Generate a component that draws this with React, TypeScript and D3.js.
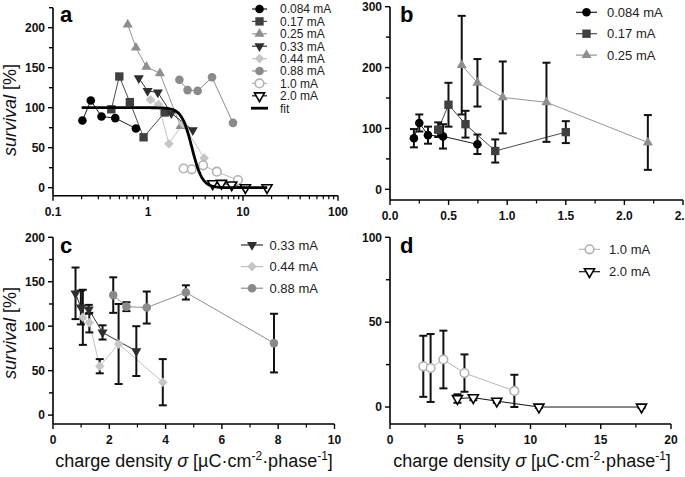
import { useEffect, useRef } from 'react';
import * as d3 from 'd3';

// mean survival [%] with SEM, x = charge density [uC/cm2/phase]
const x084 = [0.204, 0.25, 0.324, 0.452, 0.746];
const y084 = [84, 109, 89, 87, 74];
const e084 = [15, 14, 14, 20, 16];

const x017 = [0.411, 0.499, 0.644, 0.898, 1.5];
const y017 = [98, 139, 107, 63, 94];
const e017 = [12, 36, 22, 19, 18];

const x025 = [0.612, 0.746, 0.962, 1.335, 2.2];
const y025 = [204, 175, 151, 143, 77];
const e025 = [81, 39, 59, 65, 45];

const x033 = [0.8, 0.99, 1.27, 1.76, 2.96];
const y033 = [137, 121, 119, 93, 72];
const e033 = [29, 19, 5, 8, 28];

const x044 = [1.06, 1.29, 1.66, 2.33, 3.9];
const y044 = [110, 104, 55, 80, 37];
const e044 = [31, 11, 8, 45, 26];

const x088 = [2.14, 2.61, 3.33, 4.72, 7.85];
const y088 = [135, 122, 121, 138, 81];
const e088 = [20, 5, 18, 8, 33];

const x10 = [2.37, 2.89, 3.8, 5.3, 8.85];
const y10 = [24, 23, 28, 20, 9.5];
const e10 = [18, 20, 17, 11, 9.5];

const x20 = [4.8, 5.93, 7.6, 10.6, 17.9];
const y20 = [5, 5.5, 3.5, 0, 0];
const e20 = [2.5, 1.5, 1, 0.5, 0.5];

// sigmoidal fit shown in panel a
const FIT_TOP = 100;
const FIT_BOTTOM = 0;
const FIT_EC50 = 2.9;
const FIT_HILL = 8;
const FIT_RANGE = [0.2, 18];

const FONT = '"Liberation Sans", Arial, Helvetica, sans-serif';

type Shape = 'circle' | 'square' | 'up' | 'down' | 'diamond';

interface Series {
  label: string;
  x: number[];
  y: number[];
  err: number[];
  shape: Shape;
  fill: string;
  stroke: string;
  line: string;
}

const series: Record<string, Series> = {
  s084: { label: '0.084 mA', x: x084, y: y084, err: e084, shape: 'circle', fill: '#000', stroke: 'none', line: '#1a1a1a' },
  s017: { label: '0.17 mA', x: x017, y: y017, err: e017, shape: 'square', fill: '#404040', stroke: 'none', line: '#4a4a4a' },
  s025: { label: '0.25 mA', x: x025, y: y025, err: e025, shape: 'up', fill: '#8e8e8e', stroke: 'none', line: '#959595' },
  s033: { label: '0.33 mA', x: x033, y: y033, err: e033, shape: 'down', fill: '#2e2e2e', stroke: 'none', line: '#333' },
  s044: { label: '0.44 mA', x: x044, y: y044, err: e044, shape: 'diamond', fill: '#c6c6c6', stroke: 'none', line: '#c2c2c2' },
  s088: { label: '0.88 mA', x: x088, y: y088, err: e088, shape: 'circle', fill: '#8a8a8a', stroke: 'none', line: '#8e8e8e' },
  s10: { label: '1.0 mA', x: x10, y: y10, err: e10, shape: 'circle', fill: '#fff', stroke: '#b2b2b2', line: '#b8b8b8' },
  s20: { label: '2.0 mA', x: x20, y: y20, err: e20, shape: 'down', fill: '#fff', stroke: '#000', line: '#111' },
};

function symbolPath(shape: Shape) {
  if (shape === 'circle') return d3.symbol(d3.symbolCircle, 58)();
  if (shape === 'square') return d3.symbol(d3.symbolSquare, 70)();
  if (shape === 'diamond') return d3.symbol(d3.symbolSquare, 46)();
  return d3.symbol(d3.symbolTriangle, 44)();
}

function drawMarker(g: any, s: Series, cx: number, cy: number) {
  let rot = 0;
  if (s.shape === 'down') rot = 180;
  if (s.shape === 'diamond') rot = 45;
  const outline = s.stroke !== 'none';
  g.append('path')
    .attr('d', symbolPath(s.shape))
    .attr('transform', 'translate(' + cx + ',' + cy + ') rotate(' + rot + ')')
    .attr('fill', s.fill)
    .attr('stroke', outline ? s.stroke : 'none')
    .attr('stroke-width', outline ? 1.6 : 0);
}

interface PanelOpts {
  x: any;
  y: any;
  xMajor: number[];
  xMinor: number[];
  xFmt: (v: number) => string;
  yMajor: number[];
  yMinor: number[];
  letter: string;
  letterPos: [number, number];
  list: Series[];
  errors: boolean;
  legend: { x1: number; x2: number; tx: number; y0: number; step: number; size: number };
}

function drawPanel(svg: any, o: PanelOpts, fit?: boolean) {
  const g = svg.append('g');
  const [xl, xr] = o.x.range();
  const [yb, yt] = o.y.range();

  // axes
  g.append('line').attr('x1', xl).attr('x2', xl).attr('y1', yb).attr('y2', yt)
    .attr('stroke', '#000').attr('stroke-width', 1.6);
  g.append('line').attr('x1', xl).attr('x2', xr).attr('y1', yb).attr('y2', yb)
    .attr('stroke', '#000').attr('stroke-width', 1.6);

  o.yMajor.forEach((v) => {
    const yy = o.y(v);
    g.append('line').attr('x1', xl - 5).attr('x2', xl).attr('y1', yy).attr('y2', yy)
      .attr('stroke', '#000').attr('stroke-width', 1.4);
    g.append('text').attr('x', xl - 8).attr('y', yy).attr('dy', '0.36em')
      .attr('text-anchor', 'end').attr('font-family', FONT).attr('font-weight', 'bold')
      .attr('font-size', 12).attr('fill', '#111').text(String(v));
  });
  o.yMinor.forEach((v) => {
    const yy = o.y(v);
    g.append('line').attr('x1', xl - 4).attr('x2', xl).attr('y1', yy).attr('y2', yy)
      .attr('stroke', '#000').attr('stroke-width', 1.4);
  });
  o.xMajor.forEach((v) => {
    const xx = o.x(v);
    g.append('line').attr('x1', xx).attr('x2', xx).attr('y1', yb).attr('y2', yb + 5)
      .attr('stroke', '#000').attr('stroke-width', 1.4);
    g.append('text').attr('x', xx).attr('y', yb + 20)
      .attr('text-anchor', 'middle').attr('font-family', FONT).attr('font-weight', 'bold')
      .attr('font-size', 12).attr('fill', '#111').text(o.xFmt(v));
  });
  o.xMinor.forEach((v) => {
    const xx = o.x(v);
    g.append('line').attr('x1', xx).attr('x2', xx).attr('y1', yb).attr('y2', yb + 3.5)
      .attr('stroke', '#000').attr('stroke-width', 1.2);
  });

  // connecting lines
  const lineGen = d3.line<[number, number]>().x((d) => o.x(d[0])).y((d) => o.y(d[1]));
  o.list.forEach((s) => {
    const pts = s.x.map((xv, i) => [xv, s.y[i]] as [number, number]);
    g.append('path').attr('d', lineGen(pts)).attr('fill', 'none')
      .attr('stroke', s.line).attr('stroke-width', 1);
  });

  // error bars
  if (o.errors) {
    o.list.forEach((s) => {
      s.x.forEach((xv, i) => {
        const xx = o.x(xv);
        const top = o.y(s.y[i] + s.err[i]);
        const bot = o.y(s.y[i] - s.err[i]);
        g.append('line').attr('x1', xx).attr('x2', xx).attr('y1', top).attr('y2', bot)
          .attr('stroke', '#111').attr('stroke-width', 2);
        [top, bot].forEach((yy) => {
          g.append('line').attr('x1', xx - 4).attr('x2', xx + 4).attr('y1', yy).attr('y2', yy)
            .attr('stroke', '#111').attr('stroke-width', 2);
        });
      });
    });
  }

  // markers
  o.list.forEach((s) => {
    s.x.forEach((xv, i) => drawMarker(g, s, o.x(xv), o.y(s.y[i])));
  });

  if (fit) {
    const xs = d3.range(0, 201).map((i) => FIT_RANGE[0] * Math.pow(FIT_RANGE[1] / FIT_RANGE[0], i / 200));
    const pts = xs.map((xv) => [xv, FIT_BOTTOM + (FIT_TOP - FIT_BOTTOM) / (1 + Math.pow(xv / FIT_EC50, FIT_HILL))] as [number, number]);
    g.append('path').attr('d', lineGen(pts)).attr('fill', 'none')
      .attr('stroke', '#000').attr('stroke-width', 2.8);
  }

  // legend
  const L = o.legend;
  o.list.forEach((s, i) => {
    const yy = L.y0 + i * L.step;
    g.append('line').attr('x1', L.x1).attr('x2', L.x2).attr('y1', yy).attr('y2', yy)
      .attr('stroke', s.line).attr('stroke-width', 1.2);
    drawMarker(g, s, (L.x1 + L.x2) / 2, yy);
    g.append('text').attr('x', L.tx).attr('y', yy).attr('dy', '0.36em')
      .attr('font-family', FONT).attr('font-size', L.size).attr('fill', '#222').text(s.label);
  });
  if (fit) {
    const yy = L.y0 + o.list.length * L.step;
    g.append('line').attr('x1', L.x1 - 1).attr('x2', L.x2 + 1).attr('y1', yy).attr('y2', yy)
      .attr('stroke', '#000').attr('stroke-width', 2.8);
    g.append('text').attr('x', L.tx).attr('y', yy).attr('dy', '0.36em')
      .attr('font-family', FONT).attr('font-size', L.size).attr('fill', '#222').text('fit');
  }

  g.append('text').attr('x', o.letterPos[0]).attr('y', o.letterPos[1])
    .attr('font-family', FONT).attr('font-weight', 'bold').attr('font-size', 22)
    .attr('fill', '#000').text(o.letter);
}

function yTitle(svg: any, cx: number, cy: number) {
  const t = svg.append('text').attr('transform', 'translate(' + cx + ',' + cy + ') rotate(-90)')
    .attr('text-anchor', 'middle').attr('font-family', FONT).attr('font-size', 18).attr('fill', '#111');
  t.append('tspan').attr('font-style', 'italic').text('survival');
  t.append('tspan').text(' [%]');
}

function xTitle(svg: any, cx: number, by: number) {
  const t = svg.append('text').attr('x', cx).attr('y', by)
    .attr('text-anchor', 'middle').attr('font-family', FONT).attr('font-size', 18).attr('fill', '#111');
  t.append('tspan').text('charge density ');
  t.append('tspan').attr('font-style', 'italic').text('σ');
  t.append('tspan').text(' [µC·cm');
  t.append('tspan').attr('font-size', 12).attr('dy', -7).text('-2');
  t.append('tspan').attr('dy', 7).text('·phase');
  t.append('tspan').attr('font-size', 12).attr('dy', -7).text('-1');
  t.append('tspan').attr('dy', 7).text(']');
}

export default function App() {
  const svgRef = useRef<SVGSVGElement>(null);

  useEffect(() => {
    if (!svgRef.current) return;
    const svg = d3.select(svgRef.current);
    svg.selectAll('*').remove();

    const all = series;

    // panel a: all currents, log x
    const xa = d3.scaleLog().domain([0.1, 100]).range([53, 338]);
    const ya = d3.scaleLinear().domain([-10, 225]).range([195.7, 7.7]);
    const logMinor: number[] = [];
    [0.1, 1, 10].forEach((dec) => d3.range(2, 10).forEach((k) => logMinor.push(dec * k)));
    drawPanel(svg, {
      x: xa, y: ya,
      xMajor: [0.1, 1, 10, 100], xMinor: logMinor, xFmt: (v) => String(v),
      yMajor: [0, 50, 100, 150, 200], yMinor: [25, 75, 125, 175, 225],
      letter: 'a', letterPos: [60, 22],
      list: [all.s084, all.s017, all.s025, all.s033, all.s044, all.s088, all.s10, all.s20],
      errors: false,
      legend: { x1: 252, x2: 267, tx: 280, y0: 9, step: 12.4, size: 12 },
    }, true);

    // panel b
    const xb = d3.scaleLinear().domain([0, 2.5]).range([390, 683]);
    const yb = d3.scaleLinear().domain([-17.5, 300]).range([200, 6.7]);
    drawPanel(svg, {
      x: xb, y: yb,
      xMajor: [0, 0.5, 1, 1.5, 2, 2.5], xMinor: [0.25, 0.75, 1.25, 1.75, 2.25], xFmt: (v) => v.toFixed(1),
      yMajor: [0, 100, 200, 300], yMinor: [50, 150, 250],
      letter: 'b', letterPos: [400, 22],
      list: [all.s084, all.s017, all.s025],
      errors: true,
      legend: { x1: 576, x2: 597, tx: 607, y0: 12.3, step: 21.4, size: 13 },
    });

    // panel c
    const xc = d3.scaleLinear().domain([0, 10]).range([53, 334.5]);
    const yc = d3.scaleLinear().domain([-10, 200]).range([424, 237.3]);
    drawPanel(svg, {
      x: xc, y: yc,
      xMajor: [0, 2, 4, 6, 8, 10], xMinor: [1, 3, 5, 7, 9], xFmt: (v) => String(v),
      yMajor: [0, 50, 100, 150, 200], yMinor: [25, 75, 125, 175],
      letter: 'c', letterPos: [60, 253],
      list: [all.s033, all.s044, all.s088],
      errors: true,
      legend: { x1: 241, x2: 263, tx: 269.5, y0: 245, step: 21.6, size: 13 },
    });

    // panel d
    const xd = d3.scaleLinear().domain([0, 20]).range([390, 671]);
    const yd = d3.scaleLinear().domain([-10, 100]).range([424, 237.3]);
    drawPanel(svg, {
      x: xd, y: yd,
      xMajor: [0, 5, 10, 15, 20], xMinor: [2.5, 7.5, 12.5, 17.5], xFmt: (v) => String(v),
      yMajor: [0, 50, 100], yMinor: [25, 75],
      letter: 'd', letterPos: [400, 253],
      list: [all.s10, all.s20],
      errors: true,
      legend: { x1: 579, x2: 600, tx: 609, y0: 249.3, step: 22.4, size: 13 },
    });

    yTitle(svg, 16, 110);
    yTitle(svg, 16, 333);
    xTitle(svg, 194, 467);
    xTitle(svg, 532, 467);
  }, []);

  return (
    <div style={{ position: 'absolute', left: 0, top: 0 }}>
      <svg ref={svgRef} width={685} height={477} style={{ display: 'block', background: '#fff' }}></svg>
    </div>
  );
}
